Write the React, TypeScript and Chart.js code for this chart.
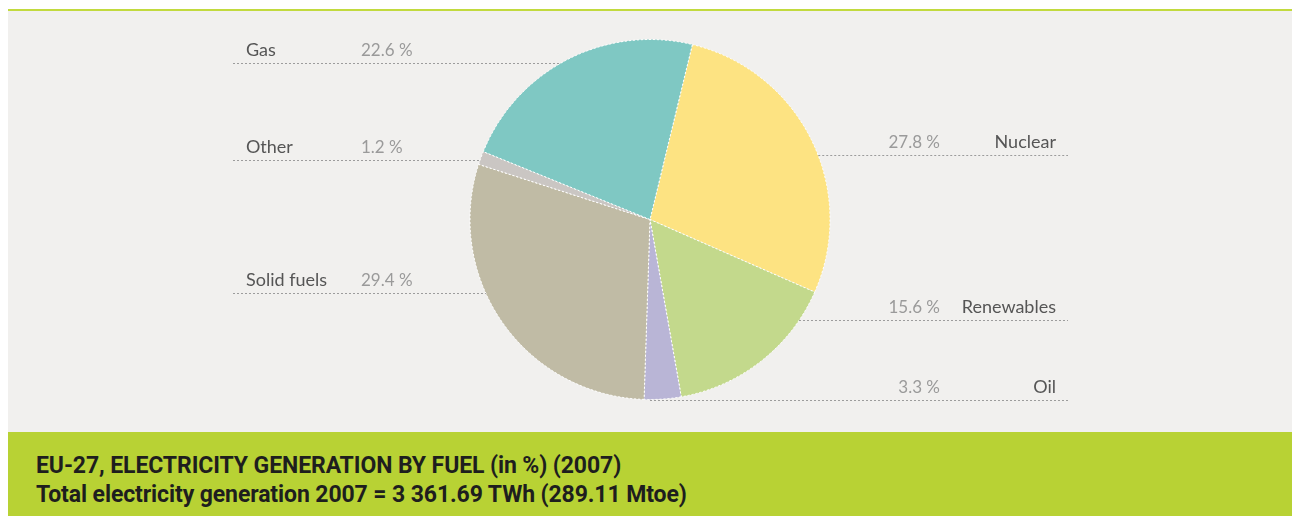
import React, { useEffect, useRef } from 'react';
import { Chart, registerables } from 'chart.js';

Chart.register(...registerables);

// ---- data ----
const categories = ['Nuclear', 'Renewables', 'Oil', 'Solid fuels', 'Other', 'Gas'];
const shares = [27.8, 15.6, 3.3, 29.4, 1.2, 22.6];
const titleLine1 = 'EU-27, ELECTRICITY GENERATION BY FUEL (in %) (2007)';
const titleLine2 = 'Total electricity generation 2007 = 3 361.69 TWh (289.11 Mtoe)';

// ---- styles / layout ----
const sliceColors = ['#fde382', '#c3d98c', '#b9b5d6', '#c0bba5', '#cac6c3', '#7fc8c3'];
const labelSides = ['right', 'right', 'right', 'left', 'left', 'left'];
const labelOffsets = [-0.361, 0.556, 1.003, 0.406, -0.333, -0.867]; // relative to radius
const startRotation = 13.6;

const W = 1284;
const H = 421;

const labelPlugin = {
  id: 'leaderLabels',
  afterDraw(chart: any) {
    const ctx = chart.ctx as CanvasRenderingContext2D;
    const arc = chart.getDatasetMeta(0).data[0] as any;
    if (!arc) return;
    const cx = arc.x;
    const cy = arc.y;
    const r = arc.outerRadius;
    const leftX = 225;
    const rightX = 1060;
    ctx.save();
    categories.forEach((name, i) => {
      const y = Math.round(cy + labelOffsets[i] * r) + 0.5;
      const d = r * r - (y - cy) * (y - cy);
      const half = d > 0 ? Math.sqrt(d) : 0;
      ctx.beginPath();
      ctx.setLineDash([2, 2]);
      ctx.lineWidth = 1;
      ctx.strokeStyle = '#9c9c9c';
      if (labelSides[i] === 'left') {
        ctx.moveTo(leftX, y);
        ctx.lineTo(cx - half, y);
      } else {
        ctx.moveTo(cx + half, y);
        ctx.lineTo(rightX, y);
      }
      ctx.stroke();
      ctx.setLineDash([]);
      const pct = shares[i].toFixed(1) + ' %';
      const ty = y - 8;
      ctx.textBaseline = 'alphabetic';
      const nameFont = '18px Lato, "Open Sans", sans-serif';
      const pctFont = '17px Lato, "Open Sans", sans-serif';
      if (labelSides[i] === 'left') {
        ctx.textAlign = 'left';
        ctx.font = nameFont;
        ctx.fillStyle = '#555555';
        ctx.fillText(name, 238, ty);
        ctx.font = pctFont;
        ctx.fillStyle = '#9a9a9a';
        ctx.fillText(pct, 353, ty);
      } else {
        ctx.textAlign = 'right';
        ctx.font = pctFont;
        ctx.fillStyle = '#9a9a9a';
        ctx.fillText(pct, 932, ty);
        ctx.font = nameFont;
        ctx.fillStyle = '#555555';
        ctx.fillText(name, 1048, ty);
      }
    });
    ctx.restore();
  },
};

export default function App() {
  const canvasRef = useRef<HTMLCanvasElement | null>(null);

  useEffect(() => {
    const canvas = canvasRef.current;
    if (!canvas) return;
    const chart = new Chart(canvas, {
      type: 'pie',
      data: {
        labels: categories,
        datasets: [
          {
            data: shares,
            backgroundColor: sliceColors,
            borderColor: '#ffffff',
            borderWidth: 1,
            borderDash: [2, 2],
          } as any,
        ],
      },
      options: {
        responsive: false,
        animation: false,
        rotation: startRotation,
        layout: { padding: { top: 28, bottom: 32, left: 0, right: 0 } },
        plugins: {
          legend: { display: false },
          tooltip: { enabled: false },
          title: { display: false },
        },
      },
      plugins: [labelPlugin],
    });
    return () => chart.destroy();
  }, []);

  return (
    <div style={{ position: 'absolute', left: 8, top: 9, width: W }}>
      <div style={{ height: 2, background: '#c2da3e' }} />
      <div style={{ height: H, background: '#f1f0ee' }}>
        <canvas ref={canvasRef} width={W} height={H} style={{ display: 'block', width: W, height: H }} />
      </div>
      <div
        style={{
          height: 84,
          background: '#b8d234',
          boxSizing: 'border-box',
          paddingLeft: 28,
          paddingTop: 19,
          fontFamily: 'Roboto, "Open Sans", sans-serif',
          fontWeight: 700,
          fontSize: 23,
          lineHeight: '29px',
          color: '#1e1e1e',
          letterSpacing: '-0.1px',
          whiteSpace: 'nowrap',
        }}
      >
        <div>{titleLine1}</div>
        <div>{titleLine2}</div>
      </div>
    </div>
  );
}
